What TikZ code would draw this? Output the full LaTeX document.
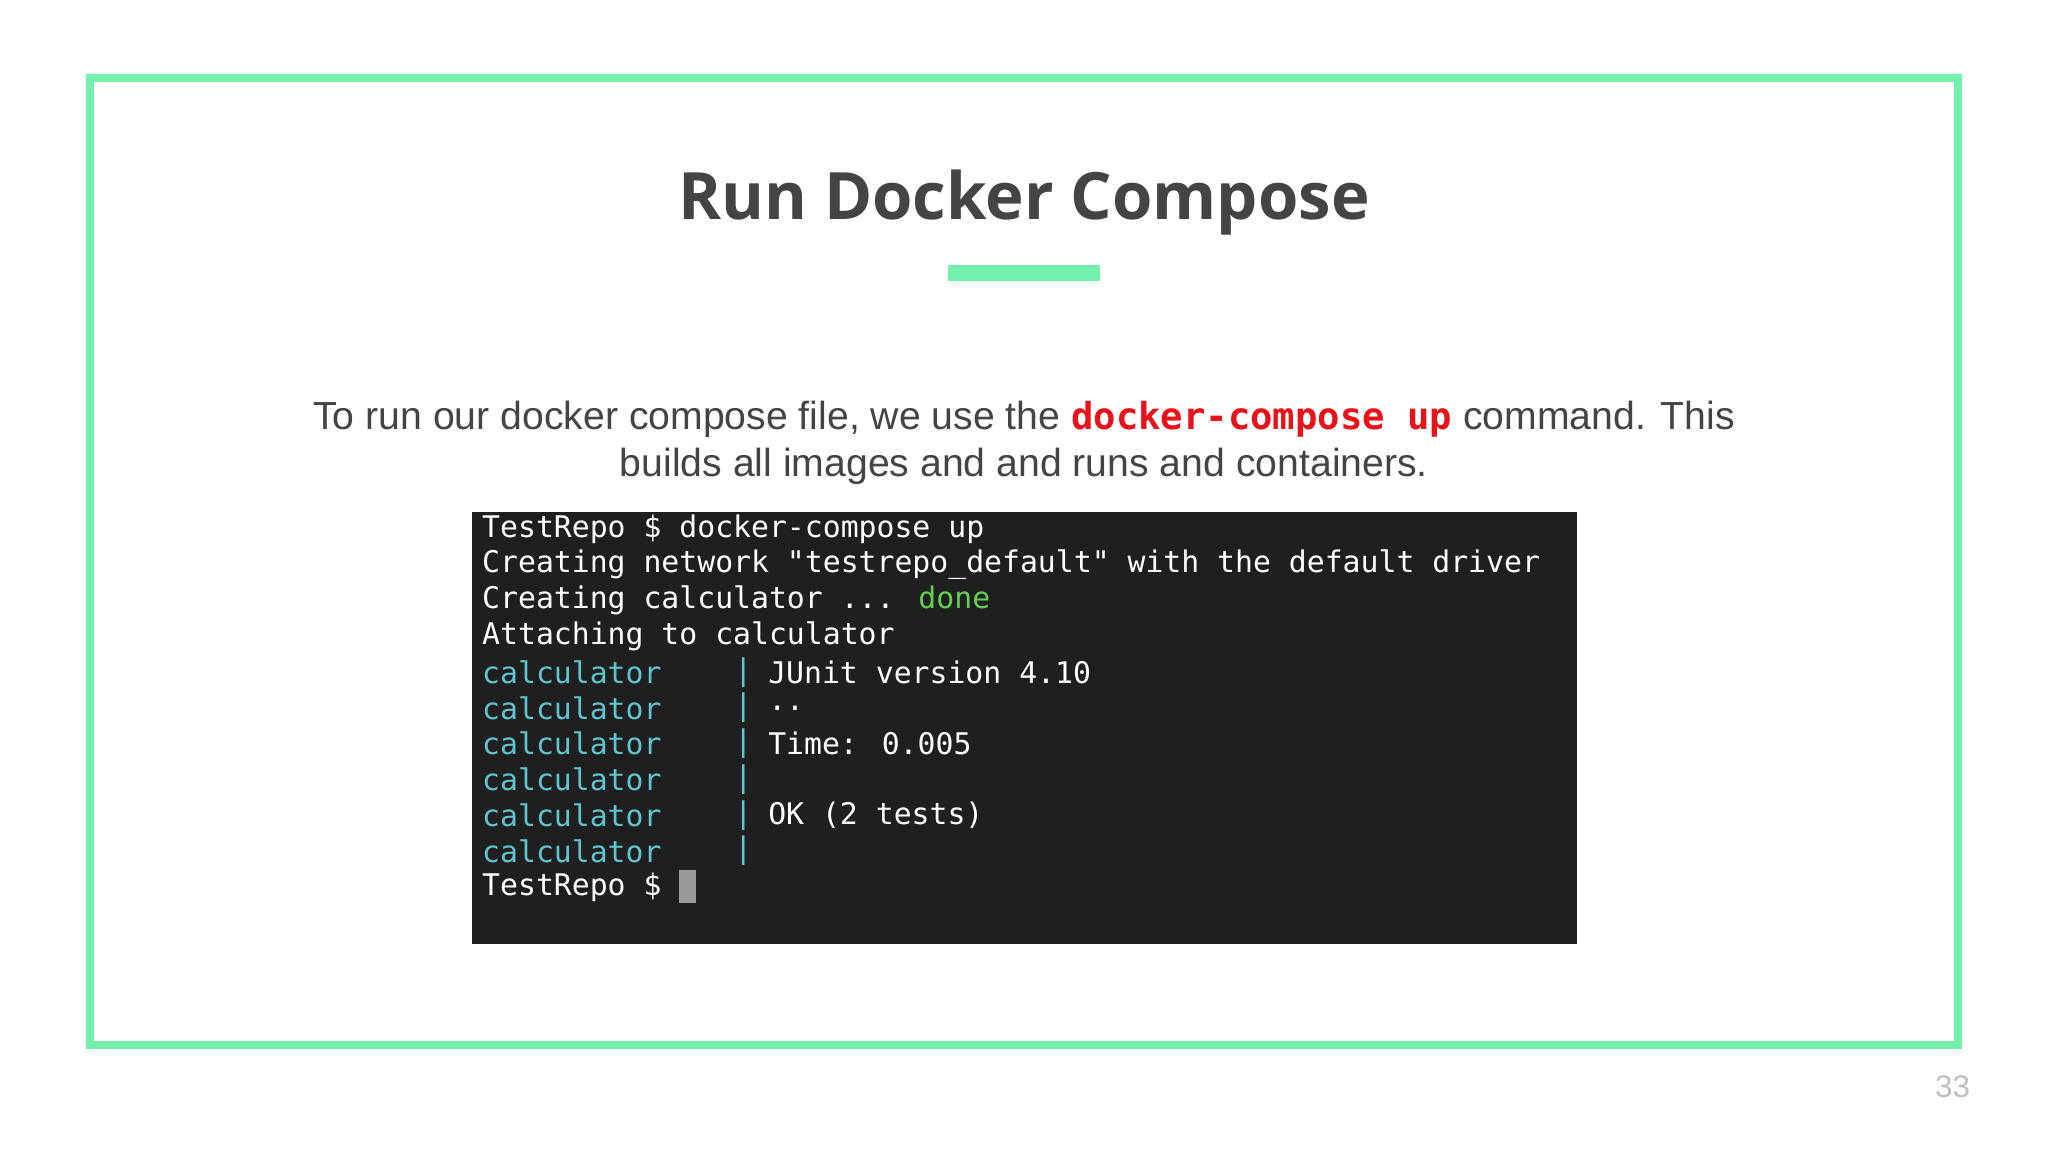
\documentclass[tikz,border=0pt]{standalone}
\usepackage{fontspec}
\setmainfont{Liberation Sans}
\newfontfamily\titlefont{Open Sans}
\newfontfamily\termfont{DejaVu Sans Mono}
\definecolor{frameg}{HTML}{74F0AC}
\definecolor{txt}{HTML}{444444}
\definecolor{termbg}{HTML}{1F1F1F}
\definecolor{tcyan}{HTML}{5EC4CF}
\definecolor{tgreen}{HTML}{62D04E}
\definecolor{cred}{HTML}{E8121B}
\tikzset{tl/.style={anchor=west,inner sep=0pt,text=white,font=\termfont\fontsize{22.8}{24}\selectfont}}
\begin{document}
\begin{tikzpicture}[x=1pt,y=-1pt]
\useasboundingbox (0,0) rectangle (1568,882);
\fill[white] (0,0) rectangle (1568,882);
\draw[frameg,line width=6pt] (69,60) rectangle (1499,800);
\node[inner sep=0pt,text=txt,font=\titlefont\bfseries\fontsize{50}{56}\selectfont] (title) at (784,155) {Run Docker Compose};
\fill[frameg] (726,203) rectangle (842,215);
\node[inner sep=0pt,text=txt,font=\fontsize{30}{36}\selectfont,align=center] (body) at (784,339) {To run our docker compose file, we use the {\color{cred}\termfont\bfseries\fontsize{28.5}{36}\selectfont docker-compose up} command. This\\builds all images and and runs and containers.};
\fill[termbg] (361,392) rectangle (1207,723);
\node[tl] (l1) at (369,405) {TestRepo \$ docker-compose up};
\node[tl] (l2) at (369,432.4) {Creating network "testrepo\_default" with the default driver};
\node[tl] (l3) at (369,459.8) {Creating calculator ... \textcolor{tgreen}{done}};
\node[tl] (l4) at (369,487.2) {Attaching to calculator};
\foreach \i/\t in {0/JUnit version 4.10,1/..,2/Time: 0.005,3/,4/OK (2 tests),5/}{
  \node[tl,text=tcyan] (c\i) at (369,514.6+27.4*\i) {calculator};
  \node[tl,text=tcyan] (p\i) at (562,514.6+27.4*\i) {|};
  \node[tl] (r\i) at (588,514.6+27.4*\i) {\t};
}
\node[tl] (l11) at (369,679) {TestRepo \$};
\fill[gray!80] (520,666) rectangle (533,691);
\node[inner sep=0pt,text=gray!50,font=\fontsize{24}{28}\selectfont] (pg) at (1495,832) {33};
\end{tikzpicture}
\end{document}
